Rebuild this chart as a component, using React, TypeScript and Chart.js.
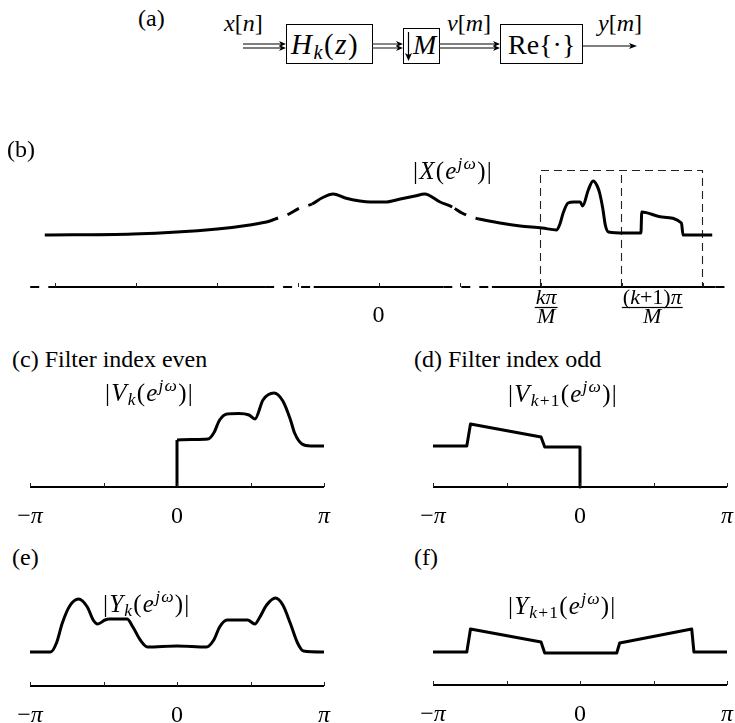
import { useEffect, useRef } from "react";
import type { ReactNode } from "react";
import { Chart, registerables } from "chart.js";

Chart.register(...registerables);

const SERIF = "'Liberation Serif', 'Times New Roman', Times, serif";

// (b) |X(e^{jω})| — frequency in units of π/M, magnitude in arbitrary units
const xFreq = [-4.12, -3.03, -1.99, -1.59, -1.34, -1.24, -1.13, -0.97, -0.82, -0.7, -0.56, -0.41, -0.23, -0.1, 0.08, 0.27, 0.45, 0.57, 0.76, 0.91, 1.03, 1.15, 1.24, 1.5, 1.75, 2.02, 2.2, 2.24, 2.28, 2.34, 2.41, 2.49, 2.52, 2.59, 2.65, 2.7, 2.73, 2.77, 2.8, 2.84, 3.04, 3.24, 3.25, 3.5, 3.74, 3.76, 4.12];
const xMag = [5.2, 5.3, 5.8, 6.2, 6.6, 6.9, 7.2, 7.9, 8.3, 8.9, 9.3, 8.9, 8.6, 8.5, 8.5, 8.8, 9.1, 9.3, 8.5, 8.0, 7.4, 7.0, 6.8, 6.4, 6.1, 5.9, 5.7, 6.3, 7.4, 8.4, 8.5, 8.5, 8.1, 9.7, 10.6, 10.1, 9.4, 7.8, 6.2, 5.5, 5.4, 5.4, 7.5, 7.0, 6.4, 5.2, 5.2];
// stretches of the spectrum that are only sketched (dashed)
const xDashRanges = [[-1.24, -0.82], [0.91, 1.24]];
const xDashOffsets = [13, 20];
// frequency axis of (b): breakpoints and dashed stretches
const bAxisFreq = [-4.3, -4.07, -1.4, -0.8, 0.8, 1.4, 4.16, 4.38];
const bAxisDashRanges = [[-4.3, -4.07], [-1.4, -0.8], [0.8, 1.4], [4.16, 4.38]];
const bTicks = [-4, -3, -2, -1, 0, 1, 2, 3, 4];
// analysis band of channels k and k+1
const bandEdges = [2, 3, 4];
const bandTop = 11.65;

// (c) |V_k(e^{jω})| — frequency in units of π
const vkFreq = [0, 0.1, 0.21, 0.25, 0.29, 0.34, 0.42, 0.49, 0.53, 0.585, 0.66, 0.72, 0.77, 0.8, 0.85, 0.91, 1.0];
const vkMag = [4.7, 4.75, 4.8, 5.4, 6.7, 7.3, 7.35, 7.2, 6.8, 8.7, 9.4, 8.6, 6.8, 5.4, 4.3, 4.1, 4.1];

// (d) |V_{k+1}(e^{jω})|
const vk1Freq = [-1, -0.77, -0.745, -0.265, -0.24, 0, 0];
const vk1Mag = [4.1, 4.1, 6.3, 5.0, 4.0, 4.0, 0];

// (e) |Y_k(e^{jω})|
const ykFreq = [-1, -0.86, -0.82, -0.78, -0.73, -0.67, -0.61, -0.57, -0.54, -0.49, -0.46, -0.34, -0.3, -0.25, -0.2, 0, 0.2, 0.25, 0.29, 0.34, 0.48, 0.53, 0.56, 0.61, 0.67, 0.72, 0.77, 0.82, 0.86, 1.0];
const ykMag = [3.4, 3.4, 4.3, 6.3, 8.0, 8.7, 7.9, 6.6, 6.2, 6.6, 6.7, 6.7, 5.9, 4.6, 3.9, 4.0, 3.9, 4.6, 5.9, 6.6, 6.6, 6.2, 6.8, 8.1, 8.8, 8.1, 6.3, 4.3, 3.5, 3.4];

// (f) |Y_{k+1}(e^{jω})|
const yk1Freq = [-1, -0.77, -0.745, -0.265, -0.24, 0.25, 0.27, 0.76, 0.775, 1.0];
const yk1Mag = [3.3, 3.3, 5.6, 4.3, 3.2, 3.2, 4.2, 5.6, 3.3, 3.3];

const piTicks = [-1, -0.5, 0, 0.5, 1];

type Run = [string, boolean]; // text, italic
type AxisLabel = { at: number; runs?: Run[]; num?: Run[]; den?: Run[] };

const piLabels: AxisLabel[] = [
  { at: -1, runs: [["−", false], ["π", true]] },
  { at: 0, runs: [["0", false]] },
  { at: 1, runs: [["π", true]] },
];
const bLabels: AxisLabel[] = [
  { at: 0, runs: [["0", false]] },
  { at: 2.07, num: [["kπ", true]], den: [["M", true]] },
  { at: 3.38, num: [["(", false], ["k", true], ["+1)", false], ["π", true]], den: [["M", true]] },
];

type Frame = { left: number; top: number; width: number; height: number; x0: number; xUnit: number; y0: number; yUnit: number };

const bFrame: Frame = { left: 0, top: 130, width: 735, height: 215, x0: 378.5, xUnit: 81, y0: 287, yUnit: 10 };
const cFrame: Frame = { left: 0, top: 375, width: 367, height: 160, x0: 177, xUnit: 147, y0: 487, yUnit: 10 };
const dFrame: Frame = { left: 367, top: 375, width: 368, height: 160, x0: 580, xUnit: 147, y0: 487, yUnit: 10 };
const eFrame: Frame = { left: 0, top: 575, width: 367, height: 148, x0: 177, xUnit: 147, y0: 686, yUnit: 10 };
const fFrame: Frame = { left: 367, top: 575, width: 368, height: 148, x0: 580, xUnit: 147, y0: 685, yUnit: 10 };

const pts = (xs: number[], ys: number[]) => xs.map((x, i) => ({ x, y: ys[i] }));

const rangeIndex = (a: number, b: number, ranges: number[][]) => {
  const m = (a + b) / 2;
  return ranges.findIndex(([lo, hi]) => m >= lo && m <= hi);
};

const curve = (data: { x: number; y: number }[], smooth: boolean, extra: any = {}) => ({
  data,
  borderColor: "#000",
  borderWidth: 3,
  pointRadius: 0,
  fill: false,
  borderJoinStyle: "round",
  borderCapStyle: "butt",
  ...(smooth ? { cubicInterpolationMode: "monotone" } : { tension: 0 }),
  ...extra,
});

const axisLine = (from: number, to: number, extra: any = {}) => ({
  data: [{ x: from, y: 0 }, { x: to, y: 0 }],
  borderColor: "#000",
  borderWidth: 2,
  pointRadius: 0,
  tension: 0,
  fill: false,
  ...extra,
});

function runsWidth(ctx: CanvasRenderingContext2D, runs: Run[], size: number) {
  let w = 0;
  for (const [t, it] of runs) {
    ctx.font = `${it ? "italic " : ""}${size}px ${SERIF}`;
    w += ctx.measureText(t).width;
  }
  return w;
}

function drawRuns(ctx: CanvasRenderingContext2D, runs: Run[], cx: number, baseline: number, size: number) {
  const w = runsWidth(ctx, runs, size);
  let x = cx - w / 2;
  ctx.textAlign = "left";
  ctx.textBaseline = "alphabetic";
  for (const [t, it] of runs) {
    ctx.font = `${it ? "italic " : ""}${size}px ${SERIF}`;
    ctx.fillText(t, x, baseline);
    x += ctx.measureText(t).width;
  }
  return w;
}

type AxisDecor = {
  ticks: number[];
  labels: AxisLabel[];
  tickLength: number;
  baseline: number;
  size: number;
  fracSize?: number;
  fracNum?: number;
  fracBar?: number;
  fracDen?: number;
};

// upward ticks on the frequency axis, plus its tick labels
function axisDecor(cfg: AxisDecor) {
  return {
    id: "axisDecor",
    afterDatasetsDraw(chart: any) {
      const { ctx } = chart;
      const xs = chart.scales.x;
      const y0 = chart.scales.y.getPixelForValue(0);
      ctx.save();
      ctx.strokeStyle = "#222";
      ctx.lineWidth = 1;
      for (const t of cfg.ticks) {
        const px = Math.round(xs.getPixelForValue(t)) + 0.5;
        ctx.beginPath();
        ctx.moveTo(px, y0);
        ctx.lineTo(px, y0 - 1 - cfg.tickLength);
        ctx.stroke();
      }
      ctx.fillStyle = "#000";
      for (const l of cfg.labels) {
        const px = xs.getPixelForValue(l.at);
        if (l.runs) drawRuns(ctx, l.runs, px, y0 + cfg.baseline, cfg.size);
        if (l.num && l.den) {
          const fs = cfg.fracSize ?? cfg.size;
          const wn = drawRuns(ctx, l.num, px, y0 + (cfg.fracNum ?? 0), fs);
          const wd = drawRuns(ctx, l.den, px, y0 + (cfg.fracDen ?? 0), fs);
          const w = Math.max(wn, wd) + 2;
          ctx.fillRect(px - w / 2, y0 + (cfg.fracBar ?? 0) - 0.6, w, 1.2);
        }
      }
      ctx.restore();
    },
  };
}

function SpectrumChart({ frame, datasets, decor }: { frame: Frame; datasets: any[]; decor: AxisDecor }) {
  const ref = useRef<HTMLCanvasElement>(null);
  useEffect(() => {
    const f = frame;
    const chart = new Chart(ref.current!, {
      type: "line",
      data: { datasets },
      options: {
        animation: false,
        responsive: false,
        events: [],
        layout: { padding: 0 },
        plugins: { legend: { display: false }, tooltip: { enabled: false } },
        elements: { point: { radius: 0 } },
        scales: {
          x: { type: "linear", display: false, min: (f.left - f.x0) / f.xUnit, max: (f.left + f.width - f.x0) / f.xUnit },
          y: { type: "linear", display: false, min: (f.y0 - (f.top + f.height)) / f.yUnit, max: (f.y0 - f.top) / f.yUnit },
        },
      } as any,
      plugins: [axisDecor(decor)],
    });
    return () => chart.destroy();
  }, []);
  return (
    <canvas
      ref={ref}
      width={frame.width}
      height={frame.height}
      style={{ position: "absolute", left: frame.left, top: frame.top, width: frame.width, height: frame.height }}
    />
  );
}

const I = ({ children }: { children: ReactNode }) => <span style={{ fontStyle: "italic" }}>{children}</span>;
const Sub = ({ children }: { children: ReactNode }) => (
  <span style={{ fontSize: "0.7em", verticalAlign: "-0.25em", lineHeight: 0 }}>{children}</span>
);
const Sup = ({ children }: { children: ReactNode }) => (
  <span style={{ fontSize: "0.7em", verticalAlign: "0.55em", lineHeight: 0 }}>{children}</span>
);

function Label({ x, baseline, size, spacing = 0, children }: { x: number; baseline: number; size: number; spacing?: number; children: ReactNode }) {
  return (
    <div
      style={{
        position: "absolute",
        left: x,
        top: baseline - 0.8375 * size,
        fontFamily: SERIF,
        fontSize: size,
        lineHeight: `${size}px`,
        letterSpacing: spacing,
        whiteSpace: "nowrap",
        color: "#000",
      }}
    >
      {children}
    </div>
  );
}

const Ejw = () => (
  <>
    (<I>e</I>
    <Sup>
      <I>jω</I>
    </Sup>
    )
  </>
);

const FLOW_Y = 46;

function DoubleArrow({ x1, x2 }: { x1: number; x2: number }) {
  return (
    <g>
      {[FLOW_Y - 2, FLOW_Y + 2].map((y) => (
        <g key={y}>
          <line x1={x1} y1={y} x2={x2 - 4} y2={y} stroke="#555" strokeWidth={1.4} />
          <path d={`M${x2 - 7},${y - 3} L${x2},${y} L${x2 - 7},${y + 3} L${x2 - 5},${y} Z`} fill="#000" />
        </g>
      ))}
    </g>
  );
}

function BlockDiagram() {
  return (
    <svg width={735} height={80} style={{ position: "absolute", left: 0, top: 0 }}>
      <DoubleArrow x1={243} x2={286} />
      <rect x={286.5} y={24.5} width={86} height={39} fill="none" stroke="#000" strokeWidth={1} />
      <DoubleArrow x1={372.5} x2={403} />
      <rect x={403.5} y={28.5} width={36} height={35} fill="none" stroke="#000" strokeWidth={1} />
      <line x1={408.5} y1={32} x2={408.5} y2={55} stroke="#000" strokeWidth={1.2} />
      <path d="M405,53 L408.5,61 L412,53 L408.5,55 Z" fill="#000" />
      <DoubleArrow x1={439.5} x2={500} />
      <rect x={500.5} y={24.5} width={82} height={39} fill="none" stroke="#000" strokeWidth={1} />
      <line x1={582.5} y1={FLOW_Y} x2={632} y2={FLOW_Y} stroke="#000" strokeWidth={1.2} />
      <path d={`M629,${FLOW_Y - 3} L637,${FLOW_Y} L629,${FLOW_Y + 3} L631,${FLOW_Y} Z`} fill="#000" />
    </svg>
  );
}

export default function App() {
  const bDatasets = [
    curve(pts(xFreq, xMag), true, {
      segment: {
        borderDash: (c: any) => (rangeIndex(c.p0.parsed.x, c.p1.parsed.x, xDashRanges) >= 0 ? [13, 10] : undefined),
        borderDashOffset: (c: any) => {
          const i = rangeIndex(c.p0.parsed.x, c.p1.parsed.x, xDashRanges);
          return i >= 0 ? xDashOffsets[i] : undefined;
        },
      },
    }),
    {
      data: bAxisFreq.map((x) => ({ x, y: 0 })),
      borderColor: "#000",
      borderWidth: 2,
      pointRadius: 0,
      tension: 0,
      segment: {
        borderDash: (c: any) => (rangeIndex(c.p0.parsed.x, c.p1.parsed.x, bAxisDashRanges) >= 0 ? [9, 9] : undefined),
      },
    },
    {
      data: [
        { x: bandEdges[0], y: 0 },
        { x: bandEdges[0], y: bandTop },
        { x: bandEdges[2], y: bandTop },
        { x: bandEdges[2], y: 0 },
      ],
      borderColor: "#222",
      borderWidth: 1.1,
      borderDash: [8, 5],
      pointRadius: 0,
      tension: 0,
    },
    {
      data: [
        { x: bandEdges[1], y: 0 },
        { x: bandEdges[1], y: bandTop },
      ],
      borderColor: "#222",
      borderWidth: 1.1,
      borderDash: [8, 5],
      pointRadius: 0,
      tension: 0,
    },
  ];

  const cDatasets = [
    curve(pts(vkFreq, vkMag), true),
    curve([{ x: vkFreq[0], y: 0 }, { x: vkFreq[0], y: vkMag[0] }], false),
    axisLine(-1, 1),
  ];
  const dDatasets = [curve(pts(vk1Freq, vk1Mag), false), axisLine(-1, 1)];
  const eDatasets = [curve(pts(ykFreq, ykMag), true), axisLine(-1, 1)];
  const fDatasets = [curve(pts(yk1Freq, yk1Mag), false), axisLine(-1, 1)];

  const piDecor: AxisDecor = { ticks: piTicks, labels: piLabels, tickLength: 3, baseline: 36, size: 24 };
  const bDecor: AxisDecor = {
    ticks: bTicks,
    labels: bLabels,
    tickLength: 3,
    baseline: 35,
    size: 24,
    fracSize: 22,
    fracNum: 17,
    fracBar: 20.5,
    fracDen: 36,
  };

  const MATH = 25;
  const MATH_SP = 1.2;

  return (
    <div style={{ position: "absolute", left: 0, top: 0, width: 735, height: 723, background: "#fff", overflow: "hidden" }}>
      <SpectrumChart frame={bFrame} datasets={bDatasets} decor={bDecor} />
      <SpectrumChart frame={cFrame} datasets={cDatasets} decor={piDecor} />
      <SpectrumChart frame={dFrame} datasets={dDatasets} decor={piDecor} />
      <SpectrumChart frame={eFrame} datasets={eDatasets} decor={piDecor} />
      <SpectrumChart frame={fFrame} datasets={fDatasets} decor={piDecor} />

      <BlockDiagram />
      <Label x={138} baseline={26} size={24}>(a)</Label>
      <Label x={224} baseline={31} size={24}>
        <I>x</I>[<I>n</I>]
      </Label>
      <Label x={291} baseline={54} size={29} spacing={1.5}>
        <I>H</I>
        <Sub>
          <I>k</I>
        </Sub>
        (<I>z</I>)
      </Label>
      <Label x={413} baseline={54} size={28}>
        <I>M</I>
      </Label>
      <Label x={447} baseline={31} size={24}>
        <I>v</I>[<I>m</I>]
      </Label>
      <Label x={508} baseline={54} size={28}>
        Re{"{"}·{"}"}
      </Label>
      <Label x={598} baseline={31} size={24}>
        <I>y</I>[<I>m</I>]
      </Label>

      <Label x={7} baseline={157} size={24}>(b)</Label>
      <Label x={413} baseline={179} size={MATH} spacing={MATH_SP}>
        |<I>X</I>
        <Ejw />|
      </Label>

      <Label x={12} baseline={367} size={24}>(c) Filter index even</Label>
      <Label x={105} baseline={401} size={MATH} spacing={MATH_SP}>
        |<I>V</I>
        <Sub>
          <I>k</I>
        </Sub>
        <Ejw />|
      </Label>

      <Label x={414} baseline={367} size={24}>(d) Filter index odd</Label>
      <Label x={508} baseline={402} size={MATH} spacing={MATH_SP}>
        |<I>V</I>
        <Sub>
          <I>k</I>+1
        </Sub>
        <Ejw />|
      </Label>

      <Label x={12} baseline={565} size={24}>(e)</Label>
      <Label x={103} baseline={612} size={MATH} spacing={MATH_SP}>
        |<I>Y</I>
        <Sub>
          <I>k</I>
        </Sub>
        <Ejw />|
      </Label>

      <Label x={414} baseline={565} size={24}>(f)</Label>
      <Label x={508} baseline={614} size={MATH} spacing={MATH_SP}>
        |<I>Y</I>
        <Sub>
          <I>k</I>+1
        </Sub>
        <Ejw />|
      </Label>
    </div>
  );
}
